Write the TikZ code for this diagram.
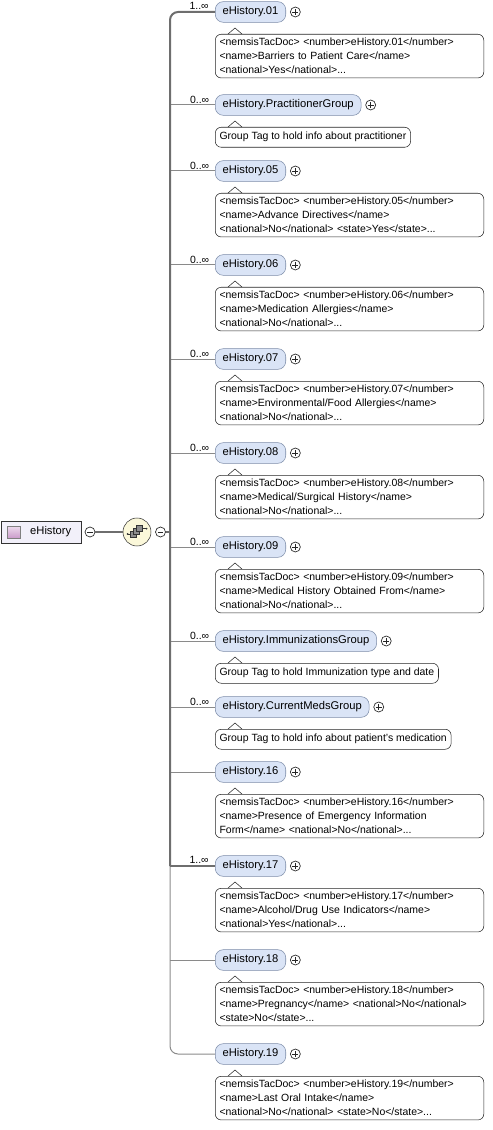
\documentclass[tikz,border=0pt]{standalone}
\usepackage{fontspec}
\setmainfont{Liberation Sans}
\usetikzlibrary{positioning, calc}

\definecolor{elemfill}{HTML}{DAE4F6}
\definecolor{elemdraw}{HTML}{7C8CA8}
\definecolor{rootfill}{HTML}{F2F0FA}
\definecolor{seqfill}{HTML}{FBF8DA}
\definecolor{wire}{HTML}{8A8A8A}
\definecolor{wirebold}{HTML}{6E6E6E}

\begin{document}
\begin{tikzpicture}[
    x=0.75pt, y=-0.75pt,
    element/.style={draw=elemdraw, fill=elemfill, rounded corners=6pt, anchor=west, minimum height=15.5pt, inner xsep=5.5pt, font=\fontsize{8.4}{10}\selectfont},
    docnote/.style={
        draw=black!85, fill=white, rounded corners=4.5pt, anchor=north west, align=left,
        minimum height=15pt, inner xsep=3.2pt, inner ysep=3pt, font=\fontsize{7.85}{10.5}\selectfont,
        append after command={
            \pgfextra
                % small pointer up towards the element
                \fill[white, sharp corners] ([xshift=9.8pt,yshift=-0.7pt]\tikzlastnode.north west) -- ++(0,0.7pt) -- ++(5.2pt,4.5pt) -- ++(5.2pt,-4.5pt) -- ++(0,-0.7pt) -- cycle;
                \draw[black!85, sharp corners] ([xshift=9.8pt]\tikzlastnode.north west) -- ++(5.2pt,4.5pt) -- ++(5.2pt,-4.5pt);
            \endpgfextra
        }
    },
    docwide/.style={docnote, text width=195pt},
    card/.style={anchor=south east, inner sep=1pt, xshift=-3pt, font=\fontsize{7.85}{9}\selectfont},
    expand/.style={circle, draw=black!85, fill=white, minimum size=7.5pt, inner sep=0pt, line width=0.5pt,
        path picture={\draw[black!85, line width=0.6pt]
            ([xshift=-2.2pt]path picture bounding box.center) -- ([xshift=2.2pt]path picture bounding box.center)
            ([yshift=-2.2pt]path picture bounding box.center) -- ([yshift=2.2pt]path picture bounding box.center);}},
    collapse/.style={circle, draw=black!85, fill=white, minimum size=7.5pt, inner sep=0pt, line width=0.5pt,
        path picture={\draw[black!85, line width=0.6pt]
            ([xshift=-2.2pt]path picture bounding box.center) -- ([xshift=2.2pt]path picture bounding box.center);}},
    rootbox/.style={draw=black!80, fill=rootfill, anchor=west, minimum height=16.5pt, text width=45pt, align=right, inner xsep=7.5pt, font=\fontsize{8.4}{10}\selectfont},
    rooticon/.style={draw=black!50, top color=white!85!violet, bottom color=black!5!violet!40, minimum width=9.75pt, minimum height=9pt, inner sep=0pt},
    compositor/.style={circle, draw=black!80, fill=seqfill, minimum size=21pt, inner sep=0pt,
        path picture={
            \coordinate (sc) at (path picture bounding box.center);
            \draw[black!80, line width=0.6pt] ([shift={(-7pt,-1.5pt)}]sc) -- ([shift={(-5.25pt,-1.5pt)}]sc);
            \draw[black!80, line width=0.6pt] ([shift={(4.25pt,2.5pt)}]sc) -- ([shift={(7.2pt,2.5pt)}]sc);
            \fill[black!80] ([shift={(-7pt,-1.5pt)}]sc) circle (0.7pt) ([shift={(7.2pt,2.5pt)}]sc) circle (0.7pt);
            \draw[black!80, fill=black!45] ([shift={(-5.25pt,-3.75pt)}]sc) rectangle ++(4.5pt,4.5pt);
            \draw[black!80, fill=black!45] ([shift={(-2.75pt,-1.75pt)}]sc) rectangle ++(4.5pt,4.5pt);
            \draw[black!80, fill=black!45] ([shift={(-0.25pt,0.25pt)}]sc) rectangle ++(4.5pt,4.5pt);
        }},
    link/.style={draw=wire, line width=0.75pt},
    mandatory/.style={draw=wirebold, line width=1.5pt}
]

\useasboundingbox (0,0) rectangle (492,1130);

% -------------------------------------------------------------------------
% Root element and sequence compositor
% -------------------------------------------------------------------------
\node[rootbox] (Root) at (1,532) {eHistory};
\node[rooticon] (RootIcon) at (14,532.5) {};
\node[collapse] (RootMinus) at (90,532) {};
\node[compositor] (Seq) at (137,532) {};
\node[collapse] (SeqMinus) at (160.5,532) {};

% -------------------------------------------------------------------------
% Child elements (x = 215) with their annotation boxes
% -------------------------------------------------------------------------
\node[element] (E01) at (215,12) {eHistory.01};
\node[expand, right=3pt of E01] (X01) {};
\node[docwide] (N01) at (215,34) {<nemsisTacDoc> <number>eHistory.01</number>\\<name>Barriers to Patient Care</name>\\<national>Yes</national>...};

\node[element] (EPG) at (215,105) {eHistory.PractitionerGroup};
\node[expand, right=3pt of EPG] (XPG) {};
\node[docnote] (NPG) at (215,127) {Group Tag to hold info about practitioner};

\node[element] (E05) at (215,171) {eHistory.05};
\node[expand, right=3pt of E05] (X05) {};
\node[docwide] (N05) at (215,193) {<nemsisTacDoc> <number>eHistory.05</number>\\<name>Advance Directives</name>\\<national>No</national> <state>Yes</state>...};

\node[element] (E06) at (215,265) {eHistory.06};
\node[expand, right=3pt of E06] (X06) {};
\node[docwide] (N06) at (215,287) {<nemsisTacDoc> <number>eHistory.06</number>\\<name>Medication Allergies</name>\\<national>No</national>...};

\node[element] (E07) at (215,359) {eHistory.07};
\node[expand, right=3pt of E07] (X07) {};
\node[docwide] (N07) at (215,381) {<nemsisTacDoc> <number>eHistory.07</number>\\<name>Environmental/Food Allergies</name>\\<national>No</national>...};

\node[element] (E08) at (215,453) {eHistory.08};
\node[expand, right=3pt of E08] (X08) {};
\node[docwide] (N08) at (215,475) {<nemsisTacDoc> <number>eHistory.08</number>\\<name>Medical/Surgical History</name>\\<national>No</national>...};

\node[element] (E09) at (215,547) {eHistory.09};
\node[expand, right=3pt of E09] (X09) {};
\node[docwide] (N09) at (215,569) {<nemsisTacDoc> <number>eHistory.09</number>\\<name>Medical History Obtained From</name>\\<national>No</national>...};

\node[element] (EIG) at (215,641) {eHistory.ImmunizationsGroup};
\node[expand, right=3pt of EIG] (XIG) {};
\node[docnote] (NIG) at (215,663) {Group Tag to hold Immunization type and date};

\node[element] (ECM) at (215,707) {eHistory.CurrentMedsGroup};
\node[expand, right=3pt of ECM] (XCM) {};
\node[docnote] (NCM) at (215,729) {Group Tag to hold info about patient's medication};

\node[element] (E16) at (215,772) {eHistory.16};
\node[expand, right=3pt of E16] (X16) {};
\node[docwide] (N16) at (215,794) {<nemsisTacDoc> <number>eHistory.16</number>\\<name>Presence of Emergency Information\\Form</name> <national>No</national>...};

\node[element] (E17) at (215,866) {eHistory.17};
\node[expand, right=3pt of E17] (X17) {};
\node[docwide] (N17) at (215,888) {<nemsisTacDoc> <number>eHistory.17</number>\\<name>Alcohol/Drug Use Indicators</name>\\<national>Yes</national>...};

\node[element] (E18) at (215,960) {eHistory.18};
\node[expand, right=3pt of E18] (X18) {};
\node[docwide] (N18) at (215,982) {<nemsisTacDoc> <number>eHistory.18</number>\\<name>Pregnancy</name> <national>No</national>\\<state>No</state>...};

\node[element] (E19) at (215,1054) {eHistory.19};
\node[expand, right=3pt of E19] (X19) {};
\node[docwide] (N19) at (215,1076) {<nemsisTacDoc> <number>eHistory.19</number>\\<name>Last Oral Intake</name>\\<national>No</national> <state>No</state>...};

% -------------------------------------------------------------------------
% Bus joints at x = 170
% -------------------------------------------------------------------------
\coordinate (B01) at (170,12);
\coordinate (BPG) at (170,105);
\coordinate (B05) at (170,171);
\coordinate (B06) at (170,265);
\coordinate (B07) at (170,359);
\coordinate (B08) at (170,453);
\coordinate (B09) at (170,547);
\coordinate (BSeq) at (170,532);
\coordinate (BIG) at (170,641);
\coordinate (BCM) at (170,707);
\coordinate (B16) at (170,772);
\coordinate (B17) at (170,866);
\coordinate (B18) at (170,960);
\coordinate (B19) at (170,1054);

% optional children
\draw[link] (BPG) -- (EPG.west) node[card] {0..∞};
\draw[link] (B05) -- (E05.west) node[card] {0..∞};
\draw[link] (B06) -- (E06.west) node[card] {0..∞};
\draw[link] (B07) -- (E07.west) node[card] {0..∞};
\draw[link] (B08) -- (E08.west) node[card] {0..∞};
\draw[link] (B09) -- (E09.west) node[card] {0..∞};
\draw[link] (BIG) -- (EIG.west) node[card] {0..∞};
\draw[link] (BCM) -- (ECM.west) node[card] {0..∞};
\draw[link] (B16) -- (E16.west);
\draw[link] (B18) -- (E18.west);
\draw[link, rounded corners=6pt] (B17) -- (B19) -- (E19.west);

% mandatory part of the bus
\draw[mandatory, rounded corners=6pt] (E01.west) node[card] {1..∞} -- (B01) -- (B17);
\draw[mandatory] (B17) -- (E17.west) node[card] {1..∞};

% root to compositor to bus
\draw[mandatory] (RootMinus) -- (Seq);
\draw[mandatory] (SeqMinus) -- (BSeq);

\end{tikzpicture}
\end{document}
